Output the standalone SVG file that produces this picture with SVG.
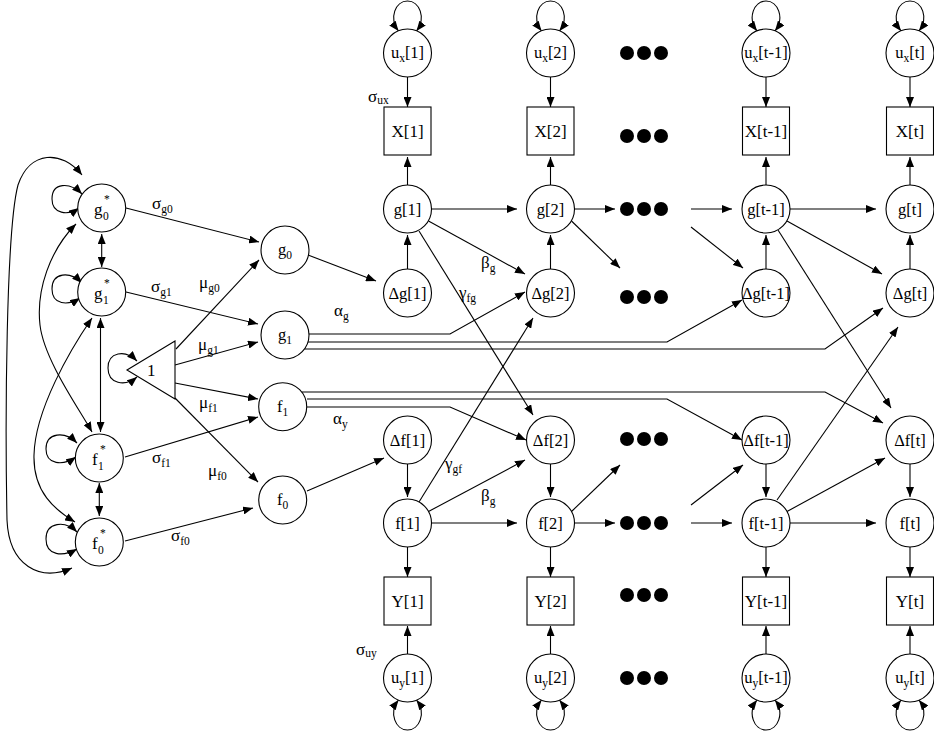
<svg xmlns="http://www.w3.org/2000/svg" width="934" height="733" viewBox="0 0 934 733">
<defs>
<marker id="ah" viewBox="0 0 10 8" refX="10" refY="4" markerWidth="10" markerHeight="8" orient="auto-start-reverse" markerUnits="userSpaceOnUse"><path d="M0,0 L10,4 L0,8 z" fill="#000"/></marker>
<style>
.n{fill:#fff;stroke:#000;stroke-width:1.1}
.e{fill:none;stroke:#000;stroke-width:1.1;marker-end:url(#ah)}
.d{fill:none;stroke:#000;stroke-width:1.1;marker-start:url(#ah);marker-end:url(#ah)}
.p{fill:none;stroke:#000;stroke-width:1.1}
.t{font-family:"Liberation Serif","Times New Roman",serif;font-size:16.5px;text-anchor:middle;fill:#000}
.b{font-family:"Liberation Serif","Times New Roman",serif;font-size:17px;text-anchor:middle;fill:#000}
.l{font-family:"Liberation Serif","Times New Roman",serif;font-size:17px;fill:#000}
.s{font-size:11.5px}
.dot{fill:#000}
</style>
</defs>
<rect width="934" height="733" fill="#fff"/>

<g id="connectors">
<!-- left column self loops -->
<path class="d" d="M82,194 C70,182 52,182 52,199 C52,214 68,216 79,208"/>
<path class="d" d="M82,283 C70,271 52,272 52,289 C52,305 68,306 80,298"/>
<path class="d" d="M77,443 C65,431 46,432 46,449 C46,465 63,466 76,457"/>
<path class="d" d="M77,532 C65,520 46,522 46,539 C46,556 63,557 77,549"/>
<path class="d" d="M137,361 C125,349 108,352 108,368 C108,384 125,387 137,377"/>
<!-- left vertical double arrows -->
<path class="d" d="M101.7,234 L101.7,267"/>
<path class="d" d="M100.5,318 L100.5,432"/>
<path class="d" d="M99.3,483 L99.3,516"/>
<!-- left curved double arrows -->
<path class="d" d="M82,175 C62,150 30,150 18,185 C6,230 5,420 7,520 C9,566 40,582 72,568"/>
<path class="d" d="M76,224 C50,250 36,290 40,325 C44,360 80,410 92,432"/>
<path class="d" d="M92,318 C70,350 35,410 34,455 C33,492 55,510 75,522"/>
<!-- stars to initial factors -->
<path class="e" d="M126,208 L259,242"/>
<path class="e" d="M126,292 L258,324"/>
<path class="e" d="M125,457 L258,417"/>
<path class="e" d="M125,541 L253,508"/>
<!-- triangle to initial factors -->
<path class="e" d="M176,349 L259,260"/>
<path class="e" d="M175,365 L258,342"/>
<path class="e" d="M175,383 L258,399"/>
<path class="e" d="M175,398 L258,482"/>
<!-- initial levels to first changes -->
<path class="e" d="M308,255 L376,281"/>
<path class="e" d="M307,491 L384,458"/>
<!-- g1 slope lines -->
<path class="e" d="M309,334 H450 L525,292"/>
<path class="e" d="M308,342 H667 L742,300"/>
<path class="e" d="M305,349 H825 L883,308"/>
<!-- f1 slope lines -->
<path class="e" d="M302,392 H825 L883,423"/>
<path class="e" d="M307,399 H667 L742,440"/>
<path class="e" d="M307,407 H450 L526,440"/>
<!-- top loops u_x -->
<path class="d" d="M398.5,31 C388.5,18 395.5,1 407.5,1 C419.5,1 426.5,18 416.5,31"/>
<path class="d" d="M541.5,31 C531.5,18 538.5,1 550.5,1 C562.5,1 569.5,18 559.5,31"/>
<path class="d" d="M757,31 C747,18 754,1 766,1 C778,1 785,18 775,31"/>
<path class="d" d="M901,31 C891,18 898,1 910,1 C922,1 929,18 919,31"/>
<!-- bottom loops u_y -->
<path class="d" d="M398.5,700 C388.5,713 395.5,730 407.5,730 C419.5,730 426.5,713 416.5,700"/>
<path class="d" d="M541.5,700 C531.5,713 538.5,730 550.5,730 C562.5,730 569.5,713 559.5,700"/>
<path class="d" d="M757,700 C747,713 754,730 766,730 C778,730 785,713 775,700"/>
<path class="d" d="M901,700 C891,713 898,730 910,730 C922,730 929,713 919,700"/>
<!-- verticals -->
<path class="e" d="M407.5,77 V107"/><path class="e" d="M550.5,77 V107"/><path class="e" d="M766,77 V107"/><path class="e" d="M910,77 V107"/>
<path class="e" d="M407.5,185 V157"/><path class="e" d="M550.5,185 V157"/><path class="e" d="M766,185 V157"/><path class="e" d="M910,185 V157"/>
<path class="e" d="M407.5,269 V235"/><path class="e" d="M550.5,269 V235"/><path class="e" d="M766,269 V235"/><path class="e" d="M910,269 V235"/>
<path class="e" d="M407.5,464 V497"/><path class="e" d="M550.5,464 V497"/><path class="e" d="M766,464 V497"/><path class="e" d="M910,464 V497"/>
<path class="e" d="M407.5,547 V577"/><path class="e" d="M550.5,547 V577"/><path class="e" d="M766,547 V577"/><path class="e" d="M910,547 V577"/>
<path class="e" d="M407.5,654 V626"/><path class="e" d="M550.5,654 V626"/><path class="e" d="M766,654 V626"/><path class="e" d="M910,654 V626"/>
<!-- horizontals g -->
<path class="e" d="M431.5,209 H517"/><path class="e" d="M574.5,209 H615"/><path class="e" d="M691,209 H732"/><path class="e" d="M790,209 H876"/>
<!-- horizontals f -->
<path class="e" d="M431.5,523 H517"/><path class="e" d="M574.5,523 H615"/><path class="e" d="M691,523 H732"/><path class="e" d="M790,523 H876"/>
<!-- g diagonals -->
<path class="e" d="M428.5,221 L525,274"/>
<path class="e" d="M571.5,221 L620,268"/>
<path class="e" d="M691,227 L743,268"/>
<path class="e" d="M787,221 L882,274"/>
<!-- f diagonals -->
<path class="e" d="M428.5,511.5 L525,460"/>
<path class="e" d="M571.5,511.5 L620,465"/>
<path class="e" d="M691,505 L743,465"/>
<path class="e" d="M787,511.5 L885,458"/>
<!-- cross-lagged -->
<path class="e" d="M419,231 L533,415"/>
<path class="e" d="M419,502 L533,318"/>
<path class="e" d="M778,230 L891,408"/>
<path class="e" d="M777,500 L898,327"/>
</g>

<g id="dots">
<circle class="dot" cx="627" cy="53" r="7"/><circle class="dot" cx="644" cy="53" r="7"/><circle class="dot" cx="661" cy="53" r="7"/>
<circle class="dot" cx="627" cy="136" r="7"/><circle class="dot" cx="644" cy="136" r="7"/><circle class="dot" cx="661" cy="136" r="7"/>
<circle class="dot" cx="627" cy="209" r="7"/><circle class="dot" cx="644" cy="209" r="7"/><circle class="dot" cx="661" cy="209" r="7"/>
<circle class="dot" cx="627" cy="297" r="7"/><circle class="dot" cx="644" cy="297" r="7"/><circle class="dot" cx="661" cy="297" r="7"/>
<circle class="dot" cx="627" cy="439" r="7"/><circle class="dot" cx="644" cy="439" r="7"/><circle class="dot" cx="661" cy="439" r="7"/>
<circle class="dot" cx="627" cy="523" r="7"/><circle class="dot" cx="644" cy="523" r="7"/><circle class="dot" cx="661" cy="523" r="7"/>
<circle class="dot" cx="627" cy="595" r="7"/><circle class="dot" cx="644" cy="595" r="7"/><circle class="dot" cx="661" cy="595" r="7"/>
<circle class="dot" cx="627" cy="678" r="7"/><circle class="dot" cx="644" cy="678" r="7"/><circle class="dot" cx="661" cy="678" r="7"/>
</g>

<!-- left column starred nodes -->
<g id="g0s"><circle class="n" cx="101.7" cy="208" r="24"/><text class="l" x="94" y="215">g</text><text class="l s" x="103" y="220">0</text><text class="l s" x="104" y="203">*</text></g>
<g id="g1s"><circle class="n" cx="101.7" cy="292" r="24"/><text class="l" x="94" y="299">g</text><text class="l s" x="103" y="304">1</text><text class="l s" x="104" y="287">*</text></g>
<g id="f1s"><circle class="n" cx="99.3" cy="458" r="24"/><text class="l" x="92" y="465">f</text><text class="l s" x="98" y="470">1</text><text class="l s" x="100" y="453">*</text></g>
<g id="f0s"><circle class="n" cx="99.3" cy="542" r="24"/><text class="l" x="92" y="549">f</text><text class="l s" x="98" y="554">0</text><text class="l s" x="100" y="537">*</text></g>
<g id="one"><path class="n" d="M127,370 L175,341 L175,399 Z"/><text class="l" x="147" y="376">1</text></g>

<!-- initial factors -->
<g id="g0"><circle class="n" cx="285" cy="250" r="24"/><text class="t" x="285" y="255">g<tspan class="s" dy="4">0</tspan></text></g>
<g id="g1i"><circle class="n" cx="285" cy="335" r="24"/><text class="t" x="285" y="340">g<tspan class="s" dy="4">1</tspan></text></g>
<g id="f1i"><circle class="n" cx="282.7" cy="406.7" r="24"/><text class="t" x="282.7" y="412">f<tspan class="s" dy="4">1</tspan></text></g>
<g id="f0"><circle class="n" cx="282.7" cy="500" r="24"/><text class="t" x="282.7" y="505">f<tspan class="s" dy="4">0</tspan></text></g>

<!-- u_x -->
<g id="ux1"><circle class="n" cx="407.5" cy="53" r="24"/><text class="t" x="407.5" y="58">u<tspan class="s" dy="4">x</tspan><tspan dy="-4">[1]</tspan></text></g>
<g id="ux2"><circle class="n" cx="550.5" cy="53" r="24"/><text class="t" x="550.5" y="58">u<tspan class="s" dy="4">x</tspan><tspan dy="-4">[2]</tspan></text></g>
<g id="ux3"><circle class="n" cx="766" cy="53" r="24"/><text class="t" x="766" y="58">u<tspan class="s" dy="4">x</tspan><tspan dy="-4">[t-1]</tspan></text></g>
<g id="ux4"><circle class="n" cx="910" cy="53" r="24"/><text class="t" x="910" y="58">u<tspan class="s" dy="4">x</tspan><tspan dy="-4">[t]</tspan></text></g>
<!-- X -->
<g id="X1"><rect class="n" x="384" y="107" width="47" height="48"/><text class="b" x="407.5" y="137">X[1]</text></g>
<g id="X2"><rect class="n" x="527" y="107" width="47" height="48"/><text class="b" x="550.5" y="137">X[2]</text></g>
<g id="X3"><rect class="n" x="742.5" y="107" width="47" height="48"/><text class="b" x="766" y="137">X[t-1]</text></g>
<g id="X4"><rect class="n" x="886.5" y="107" width="47" height="48"/><text class="b" x="910" y="137">X[t]</text></g>
<!-- g -->
<g id="gt1"><circle class="n" cx="407.5" cy="209" r="24"/><text class="t" x="407.5" y="215">g[1]</text></g>
<g id="gt2"><circle class="n" cx="550.5" cy="209" r="24"/><text class="t" x="550.5" y="215">g[2]</text></g>
<g id="gt3"><circle class="n" cx="766" cy="209" r="24"/><text class="t" x="766" y="215">g[t-1]</text></g>
<g id="gt4"><circle class="n" cx="910" cy="209" r="24"/><text class="t" x="910" y="215">g[t]</text></g>
<!-- delta g -->
<g id="dg1"><circle class="n" cx="407.5" cy="293" r="24"/><text class="t" x="407.5" y="299">Δg[1]</text></g>
<g id="dg2"><circle class="n" cx="550.5" cy="293" r="24"/><text class="t" x="550.5" y="299">Δg[2]</text></g>
<g id="dg3"><circle class="n" cx="766" cy="293" r="24"/><text class="t" x="766" y="299">Δg[t-1]</text></g>
<g id="dg4"><circle class="n" cx="910" cy="293" r="24"/><text class="t" x="910" y="299">Δg[t]</text></g>
<!-- delta f -->
<g id="df1"><circle class="n" cx="407.5" cy="440" r="24"/><text class="t" x="407.5" y="446">Δf[1]</text></g>
<g id="df2"><circle class="n" cx="550.5" cy="440" r="24"/><text class="t" x="550.5" y="446">Δf[2]</text></g>
<g id="df3"><circle class="n" cx="766" cy="440" r="24"/><text class="t" x="766" y="446">Δf[t-1]</text></g>
<g id="df4"><circle class="n" cx="910" cy="440" r="24"/><text class="t" x="910" y="446">Δf[t]</text></g>
<!-- f -->
<g id="ft1"><circle class="n" cx="407.5" cy="523" r="24"/><text class="t" x="407.5" y="529">f[1]</text></g>
<g id="ft2"><circle class="n" cx="550.5" cy="523" r="24"/><text class="t" x="550.5" y="529">f[2]</text></g>
<g id="ft3"><circle class="n" cx="766" cy="523" r="24"/><text class="t" x="766" y="529">f[t-1]</text></g>
<g id="ft4"><circle class="n" cx="910" cy="523" r="24"/><text class="t" x="910" y="529">f[t]</text></g>
<!-- Y -->
<g id="Y1"><rect class="n" x="384" y="577" width="47" height="48"/><text class="b" x="407.5" y="607">Y[1]</text></g>
<g id="Y2"><rect class="n" x="527" y="577" width="47" height="48"/><text class="b" x="550.5" y="607">Y[2]</text></g>
<g id="Y3"><rect class="n" x="742.5" y="577" width="47" height="48"/><text class="b" x="766" y="607">Y[t-1]</text></g>
<g id="Y4"><rect class="n" x="886.5" y="577" width="47" height="48"/><text class="b" x="910" y="607">Y[t]</text></g>
<!-- u_y -->
<g id="uy1"><circle class="n" cx="407.5" cy="678" r="24"/><text class="t" x="407.5" y="683">u<tspan class="s" dy="4">y</tspan><tspan dy="-4">[1]</tspan></text></g>
<g id="uy2"><circle class="n" cx="550.5" cy="678" r="24"/><text class="t" x="550.5" y="683">u<tspan class="s" dy="4">y</tspan><tspan dy="-4">[2]</tspan></text></g>
<g id="uy3"><circle class="n" cx="766" cy="678" r="24"/><text class="t" x="766" y="683">u<tspan class="s" dy="4">y</tspan><tspan dy="-4">[t-1]</tspan></text></g>
<g id="uy4"><circle class="n" cx="910" cy="678" r="24"/><text class="t" x="910" y="683">u<tspan class="s" dy="4">y</tspan><tspan dy="-4">[t]</tspan></text></g>

<g id="labels">
<text class="l" x="152" y="209">σ<tspan class="s" dy="4">g0</tspan></text>
<text class="l" x="151" y="292">σ<tspan class="s" dy="4">g1</tspan></text>
<text class="l" x="199" y="288">μ<tspan class="s" dy="4">g0</tspan></text>
<text class="l" x="198" y="350">μ<tspan class="s" dy="4">g1</tspan></text>
<text class="l" x="199" y="408">μ<tspan class="s" dy="4">f1</tspan></text>
<text class="l" x="152" y="463">σ<tspan class="s" dy="4">f1</tspan></text>
<text class="l" x="208" y="476">μ<tspan class="s" dy="4">f0</tspan></text>
<text class="l" x="171" y="541">σ<tspan class="s" dy="4">f0</tspan></text>
<text class="l" x="334" y="316">α<tspan class="s" dy="4">g</tspan></text>
<text class="l" x="333" y="424">α<tspan class="s" dy="4">y</tspan></text>
<text class="l" x="481" y="268">β<tspan class="s" dy="4">g</tspan></text>
<text class="l" x="459" y="298">γ<tspan class="s" dy="4">fg</tspan></text>
<text class="l" x="445" y="469">γ<tspan class="s" dy="4">gf</tspan></text>
<text class="l" x="481" y="501">β<tspan class="s" dy="4">g</tspan></text>
<text class="l" x="368" y="102">σ<tspan class="s" dy="2">ux</tspan></text>
<text class="l" x="356" y="655">σ<tspan class="s" dy="2">uy</tspan></text>
</g>
</svg>
